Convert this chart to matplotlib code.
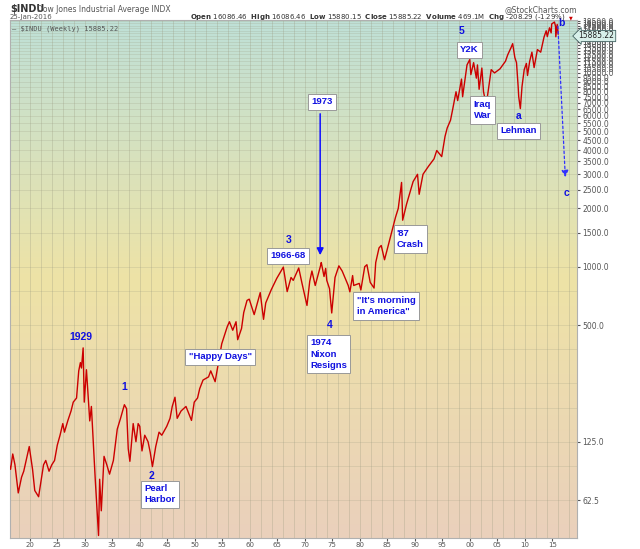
import numpy as np
import matplotlib
matplotlib.use("Agg")
import matplotlib.pyplot as plt
from matplotlib.colors import LinearSegmentedColormap
from matplotlib.ticker import FixedLocator, NullFormatter

years = [
    1916.0, 1916.5, 1916.9, 1917.3, 1917.9, 1918.5, 1918.9, 1919.5, 1919.9, 1920.5,
    1920.9, 1921.6, 1922.5, 1922.9, 1923.5, 1924.0, 1924.5, 1925.0, 1925.5, 1926.0,
    1926.3, 1926.9, 1927.5, 1927.9, 1928.5, 1928.9, 1929.2, 1929.4, 1929.7, 1929.85,
    1929.9, 1930.3, 1930.9, 1931.2, 1931.9, 1932.5, 1932.7, 1933.0, 1933.5, 1934.0,
    1934.5, 1935.2, 1935.9, 1936.5, 1937.2, 1937.6, 1937.9, 1938.2, 1938.8, 1939.3,
    1939.7, 1940.0, 1940.4, 1940.9, 1941.5, 1941.9, 1942.3, 1942.9, 1943.5, 1944.0,
    1944.9, 1945.5, 1945.9, 1946.4, 1946.8, 1947.5, 1948.4, 1948.9, 1949.4, 1949.9,
    1950.5, 1950.9, 1951.5, 1952.5, 1952.9, 1953.7, 1954.0, 1954.9, 1955.9, 1956.3,
    1956.9, 1957.5, 1957.8, 1958.5, 1958.9, 1959.5, 1959.9, 1960.8, 1961.9, 1962.5,
    1962.9, 1963.9, 1964.9, 1966.1, 1966.8, 1967.5, 1967.9, 1968.9, 1969.5, 1970.4,
    1970.9, 1971.3, 1971.9, 1972.9, 1973.0, 1973.5, 1973.8, 1974.0, 1974.5, 1974.9,
    1975.5, 1976.2, 1976.8, 1977.9, 1978.2, 1978.7, 1978.9, 1979.9, 1980.2, 1980.9,
    1981.3, 1981.9, 1982.6, 1982.9, 1983.5, 1983.9, 1984.5, 1984.9, 1985.9, 1986.5,
    1987.0, 1987.6, 1987.8, 1988.5, 1989.7, 1990.5, 1990.8, 1991.5, 1992.5, 1993.5,
    1994.0, 1994.9, 1995.5, 1995.9, 1996.5, 1996.9, 1997.5, 1997.8, 1998.5, 1998.7,
    1999.5, 2000.0, 2000.2, 2000.7, 2001.2, 2001.4, 2001.7, 2002.2, 2002.5, 2002.8,
    2003.2, 2003.9, 2004.5, 2005.5, 2006.5, 2006.9, 2007.5, 2007.8, 2008.2, 2008.5,
    2008.8, 2008.9, 2009.2, 2009.5, 2009.9, 2010.3, 2010.5, 2010.9, 2011.3, 2011.7,
    2012.3, 2012.9, 2013.5, 2013.9, 2014.1, 2014.5, 2014.8, 2014.9, 2015.4, 2015.6,
    2015.65, 2015.9, 2016.07,
]
closes = [
    100, 90, 108, 95, 68, 82, 88, 105, 118, 90,
    70, 65, 95, 100, 88, 95, 100, 120, 135, 155,
    140, 160, 180, 200, 210, 290, 320, 300, 381, 230,
    200, 294, 160, 190, 80, 41, 80, 55, 105, 95,
    85, 100, 145, 165, 194, 185, 115, 99, 155, 125,
    155, 150, 112, 135, 125, 110, 93, 118, 140, 135,
    150, 165, 190, 212, 165, 180, 190, 175, 161, 200,
    210, 235, 260, 270, 290, 255, 285, 400, 490, 520,
    470, 520, 420, 480, 580, 670, 680, 566, 735, 535,
    650, 760, 870, 995, 744, 880, 850, 985, 820, 631,
    840, 950, 800, 1020, 1051, 890, 980, 850, 770, 577,
    880, 1010, 950, 800, 742, 900, 800, 820, 759, 1000,
    1024, 830, 776, 1050, 1250, 1287, 1086, 1200, 1550, 1800,
    2000, 2722, 1738, 2100, 2750, 2999, 2365, 3000, 3300, 3600,
    3978, 3700, 4700, 5200, 5700, 6500, 8000, 7200, 9300, 7539,
    11000, 11722, 9800, 11300, 9400, 11000, 8235, 10600, 8000, 7286,
    7524, 10400, 10000, 10500, 11500, 12400, 13500, 14164, 12000, 11300,
    8500, 7550, 6547, 8500, 10400, 11200, 9700, 11500, 12800, 10655,
    13200, 12800, 15300, 16500, 15400, 17100, 16100, 17900, 18312, 17400,
    15370, 17800, 15885,
]

# annotation labels: (text, year, level, boxed)
labels = [
    ("1929", 1929.3, 434, False),
    ("1", 1937.1, 240, False),
    ("2", 1942.2, 83, False),
    ("Pearl\nHarbor", 1943.7, 67, True),
    ("\"Happy Days\"", 1954.6, 342, True),
    ("3", 1967.0, 1374, False),
    ("1966-68", 1967.0, 1136, True),
    ("1973", 1973.2, 7090, True),
    ("4", 1974.6, 500, False),
    ("1974\nNixon\nResigns", 1974.3, 354, True),
    ("\"It's morning\nin America\"", 1984.8, 627, True),
    ("'87\nCrash", 1989.2, 1390, True),
    ("5", 1998.5, 16500, False),
    ("Y2K", 1999.96, 13150, True),
    ("Iraq\nWar", 2002.3, 6440, True),
    ("a", 2008.9, 6000, False),
    ("Lehman", 2008.9, 5020, True),
    ("b", 2016.6, 18100, False),
    ("c", 2017.6, 2400, False),
]

y_ticks = [62.5, 125, 500, 1000] + list(range(1500, 19000, 500))
x_ticks = list(range(1920, 2016, 5))
x_ticklabels = [f"{y % 100:02d}" for y in x_ticks]

fig = plt.figure(figsize=(6.4, 5.49), dpi=100)
ax = fig.add_axes([10 / 640, 1 - 538 / 549, 567 / 640, 518 / 549])

grad = LinearSegmentedColormap.from_list(
    "bg", [(0.0, "#ead0bc"), (0.5, "#eee3a6"), (1.0, "#bfe0d7")])
ax.imshow(np.linspace(0, 1, 256).reshape(-1, 1), cmap=grad, origin="lower",
          extent=[0, 1, 0, 1], transform=ax.transAxes, aspect="auto", zorder=0)

ax.set_yscale("log")
ax.set_xlim(1916.4, 2019.5)
ax.set_ylim(39.8, 18760)

for yr in range(1918, 2020, 2):
    ax.axvline(yr, color="#9a9a80", lw=0.6, alpha=0.35, zorder=1)
for lv in [62.5, 93.75, 125, 187.5, 250, 375, 500, 750, 1000] + list(range(1500, 19000, 500)):
    ax.axhline(lv, color="#9a9a80", lw=0.5, alpha=0.3, zorder=1)

ax.plot(years, closes, color="#cc0000", lw=1.0, zorder=3)

ax.yaxis.tick_right()
ax.yaxis.set_major_locator(FixedLocator(y_ticks))
ax.yaxis.set_minor_locator(FixedLocator([]))
ax.yaxis.set_minor_formatter(NullFormatter())
ax.set_yticklabels([f"{v:.1f}" for v in y_ticks])
ax.set_xticks(x_ticks)
ax.set_xticklabels(x_ticklabels)
ax.tick_params(axis="y", labelsize=5.5, colors="#555555", length=2, pad=2)
ax.tick_params(axis="x", labelsize=5, colors="#555555", length=2, pad=1)
for s in ax.spines.values():
    s.set_color("#b0b0b0")
    s.set_linewidth(0.8)

box = dict(boxstyle="square,pad=0.35", fc="white", ec="#999999", lw=0.7)
for txt, yr, lv, boxed in labels:
    ax.text(yr, lv, txt, color="#1010e0", fontsize=6.8 if boxed else 7.5,
            fontweight="bold", family="Liberation Sans", ha="center", va="center",
            multialignment="left", bbox=box if boxed else None, zorder=5,
            linespacing=1.35)

# 1973 arrow and the projected c-wave arrow
ax.annotate("", xy=(1972.8, 1110), xytext=(1972.8, 6360),
            arrowprops=dict(arrowstyle="-|>", color="#1010ff", lw=1.1), zorder=4)
ax.annotate("", xy=(2017.4, 2800), xytext=(2016.0, 18000),
            arrowprops=dict(arrowstyle="-|>", color="#3030ff", lw=0.9, ls=(0, (2, 2))),
            zorder=4)

# header
fig.text(10 / 640, 1 - 12 / 549, "$INDU", fontsize=7, fontweight="bold", color="#333333")
fig.text(37 / 640, 1 - 12 / 549, "Dow Jones Industrial Average INDX", fontsize=5.5, color="#555555")
fig.text(10 / 640, 1 - 19 / 549, "25-Jan-2016", fontsize=5, color="#555555")
fig.text(577 / 640, 1 - 12 / 549, "@StockCharts.com", fontsize=5.5, color="#555555", ha="right")
fig.text(566 / 640, 1 - 19 / 549,
         r"$\bf{Open}$ 16086.46  $\bf{High}$ 16086.46  $\bf{Low}$ 15880.15  "
         r"$\bf{Close}$ 15885.22  $\bf{Volume}$ 469.1M  $\bf{Chg}$ -208.29 (-1.29%)",
         fontsize=5, color="#333333", ha="right")
fig.text(569 / 640, 1 - 19 / 549, "\u25bc", fontsize=3.5, color="#cc0000", ha="left")
ax.text(0.004, 0.99, "\u2014 $INDU (Weekly) 15885.22", transform=ax.transAxes,
        fontsize=5, color="#555555", va="top", family="DejaVu Sans Mono", zorder=5)
ax.text(1.003, 1 - 16 / 518, "15885.22", transform=ax.transAxes, fontsize=5.5,
        color="#222222", va="center", ha="left", zorder=6,
        bbox=dict(boxstyle="larrow,pad=0.15", fc="#d8f0ea", ec="#406060", lw=0.6))

fig.savefig("out.png", dpi=100)
